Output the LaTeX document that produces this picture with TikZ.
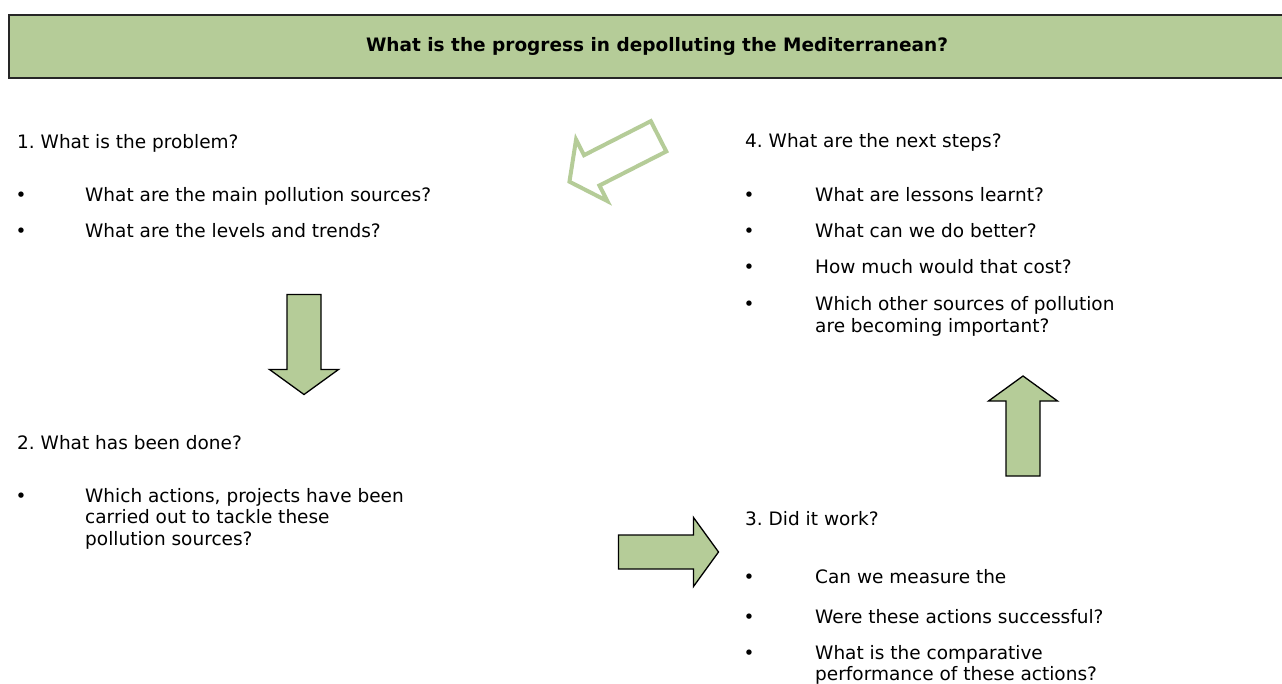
\documentclass[tikz,border=0pt]{standalone}
\usepackage{fontspec}
\setmainfont{DejaVu Sans}
\definecolor{leaf}{RGB}{181,204,152}
\begin{document}
\frenchspacing
\begin{tikzpicture}[x=1pt,y=-1pt,
  body/.style={font=\fontsize{18.5}{21.5}\selectfont, inner sep=0pt, anchor=base west, align=left},
  dot/.style={font=\fontsize{18.5}{21.5}\selectfont, inner sep=0pt, anchor=base},
  banner/.style={draw=black!85, line width=2pt, fill=leaf, inner sep=0pt, anchor=north west, minimum width=1290pt, minimum height=63pt},
  fatarrow/.pic={\path[pic actions] (-50,-17) -- (25,-17) -- (25,-34.5) -- (50,0) -- (25,34.5) -- (25,17) -- (-50,17) -- cycle;},
  solidarrow/.style={draw=black, line width=1.3pt, fill=leaf, line join=miter},
  hollowarrow/.style={draw=leaf, line width=4pt, fill=white, line join=miter}
]
\useasboundingbox (0,0) rectangle (1282,684);
\fill[white] (0,0) rectangle (1282,684);

% banner
\node[banner] (band) at (8,14) {};
\node[font=\bfseries\fontsize{18.5}{22}\selectfont, inner sep=0pt, anchor=base] (title) at (657,52) {What is the progress in depolluting the Mediterranean?};

% arrows
\pic[hollowarrow, rotate=207] (back) at (614,159) {fatarrow};
\pic[solidarrow, rotate=-90] (down) at (304,344.5) {fatarrow};
\pic[solidarrow] (right) at (668.5,552) {fatarrow};
\pic[solidarrow, rotate=90] (up) at (1023,426) {fatarrow};

% section 1
\node[body] (h1) at (17,149) {1. What is the problem?};
\node[dot] (b11) at (21,202) {•};
\node[body] (t11) at (85,202) {What are the main pollution sources?};
\node[dot] (b12) at (21,238) {•};
\node[body] (t12) at (85,238) {What are the levels and trends?};

% section 2 (multi-line nodes: base = last line)
\node[body] (h2) at (17,449) {2. What has been done?};
\node[dot] (b21) at (21,502) {•};
\node[body] (t21) at (85,545) {Which actions, projects have been\\carried out to tackle these\\pollution sources?};

% section 4
\node[body] (h4) at (745,148) {4. What are the next steps?};
\node[dot] (b41) at (749,202) {•};
\node[body] (t41) at (815,202) {What are lessons learnt?};
\node[dot] (b42) at (749,238) {•};
\node[body] (t42) at (815,238) {What can we do better?};
\node[dot] (b43) at (749,274) {•};
\node[body] (t43) at (815,274) {How much would that cost?};
\node[dot] (b44) at (749,311) {•};
\node[body] (t44) at (815,332.5) {Which other sources of pollution\\are becoming important?};

% section 3
\node[body] (h3) at (745,525) {3. Did it work?};
\node[dot] (b31) at (749,583) {•};
\node[body] (t31) at (815,583) {Can we measure the};
\node[dot] (b32) at (749,623) {•};
\node[body] (t32) at (815,623) {Were these actions successful?};
\node[dot] (b33) at (749,659) {•};
\node[body] (t33) at (815,680.5) {What is the comparative\\performance of these actions?};
\end{tikzpicture}
\end{document}
